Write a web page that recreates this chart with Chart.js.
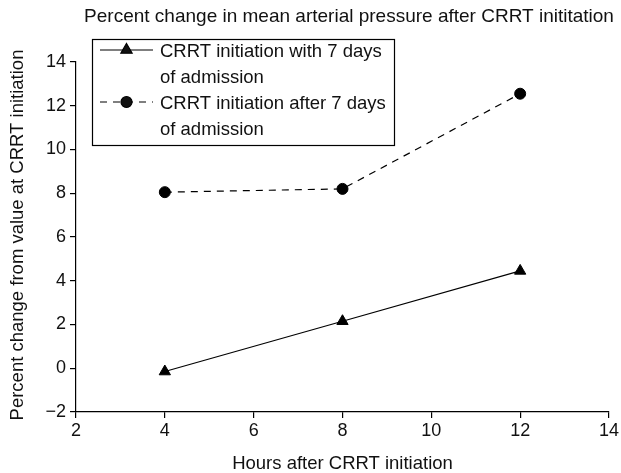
<!DOCTYPE html>
<html>
<head>
<meta charset="utf-8">
<script src="https://cdn.jsdelivr.net/npm/chart.js@4"></script>
<style>
  html, body { margin: 0; padding: 0; background: #fff; }
  #wrap { width: 621px; height: 473px; }
</style>
</head>
<body>
<div id="wrap"><canvas id="chart" width="621" height="473"></canvas></div>
<script>
// data
const hours = [4, 8, 12];
const withinSeven = [-0.15, 2.15, 4.45];
const afterSeven = [8.05, 8.2, 12.55];
const xTicks = [2, 4, 6, 8, 10, 12, 14];
const yTicks = [-2, 0, 2, 4, 6, 8, 10, 12, 14];

const seriesNames = [
    ['CRRT initiation with 7 days', 'of admission'],
    ['CRRT initiation after 7 days', 'of admission']
];
const chartTitle = 'Percent change in mean arterial pressure after CRRT inititation';
const xTitle = 'Hours after CRRT initiation';
const yTitle = 'Percent change from value at CRRT initiation';

const FONT = '"Liberation Sans", Arial, sans-serif';

function toPoints(xs, ys) {
    return xs.map((x, i) => ({ x: x, y: ys[i] }));
}

// title, axis titles and boxed legend
const extras = {
    id: 'extras',
    afterDraw(chart) {
        const ctx = chart.ctx;
        const area = chart.chartArea;
        ctx.save();
        ctx.fillStyle = '#111';
        ctx.textBaseline = 'alphabetic';
        ctx.textAlign = 'center';
        ctx.font = '19px ' + FONT;
        ctx.fillText(chartTitle, 349, 22);
        ctx.font = '18.5px ' + FONT;
        ctx.fillText(xTitle, (area.left + area.right) / 2, 469);

        ctx.save();
        ctx.translate(23, (area.top + area.bottom) / 2 - 2);
        ctx.rotate(-Math.PI / 2);
        ctx.fillText(yTitle, 0, 0);
        ctx.restore();

        // legend box
        ctx.strokeStyle = '#000';
        ctx.lineWidth = 1.2;
        ctx.strokeRect(92.5, 39.5, 302, 106);

        ctx.textAlign = 'left';
        chart.data.datasets.forEach((ds, i) => {
            const y = 50 + i * 52;
            ctx.save();
            ctx.strokeStyle = ds.borderColor;
            ctx.lineWidth = ds.borderWidth;
            ctx.setLineDash(ds.borderDash || []);
            ctx.beginPath();
            ctx.moveTo(100, y);
            ctx.lineTo(153, y);
            ctx.stroke();
            ctx.restore();
            Chart.helpers.drawPoint(ctx, {
                pointStyle: ds.pointStyle,
                radius: ds.pointRadius,
                borderWidth: 1
            }, 126.5, y);
            ctx.fillStyle = '#111';
            ctx.fillText(seriesNames[i][0], 160, y + 7);
            ctx.fillText(seriesNames[i][1], 160, y + 33);
        });
        ctx.restore();
    }
};

new Chart(document.getElementById('chart'), {
    type: 'scatter',
    data: {
        datasets: [{
            label: seriesNames[0].join(' '),
            data: toPoints(hours, withinSeven),
            showLine: true,
            borderColor: '#000',
            backgroundColor: '#000',
            borderWidth: 1.2,
            pointStyle: 'triangle',
            pointRadius: 6.5,
            pointBorderWidth: 1
        }, {
            label: seriesNames[1].join(' '),
            data: toPoints(hours, afterSeven),
            showLine: true,
            borderColor: '#000',
            backgroundColor: '#000',
            borderWidth: 1.2,
            borderDash: [7, 6],
            pointStyle: 'circle',
            pointRadius: 5.5,
            pointBorderWidth: 1
        }]
    },
    options: {
        responsive: false,
        animation: false,
        layout: { padding: { top: 62, right: 10, left: 0, bottom: 0 } },
        plugins: {
            legend: { display: false },
            title: { display: false },
            tooltip: { enabled: false }
        },
        scales: {
            x: {
                type: 'linear',
                min: 2,
                max: 14,
                afterBuildTicks: (s) => { s.ticks = xTicks.map(v => ({ value: v })); },
                afterFit: (s) => { s.height = 61; },
                grid: { display: true, drawOnChartArea: false, drawTicks: true, tickLength: 6, color: '#000', lineWidth: 1.2 },
                border: { display: true, color: '#000', width: 1.2 },
                ticks: { color: '#111', font: { family: FONT, size: 18 }, padding: 2, maxRotation: 0 }
            },
            y: {
                min: -2,
                max: 14,
                afterBuildTicks: (s) => { s.ticks = yTicks.map(v => ({ value: v })); },
                afterFit: (s) => { s.width = 76; },
                grid: { display: true, drawOnChartArea: false, drawTicks: true, tickLength: 6, color: '#000', lineWidth: 1.2 },
                border: { display: true, color: '#000', width: 1.2 },
                ticks: {
                    color: '#111',
                    font: { family: FONT, size: 18 },
                    padding: 4,
                    callback: (v) => v < 0 ? '\u2212' + Math.abs(v) : String(v)
                }
            }
        }
    },
    plugins: [extras]
});
</script>
</body>
</html>
